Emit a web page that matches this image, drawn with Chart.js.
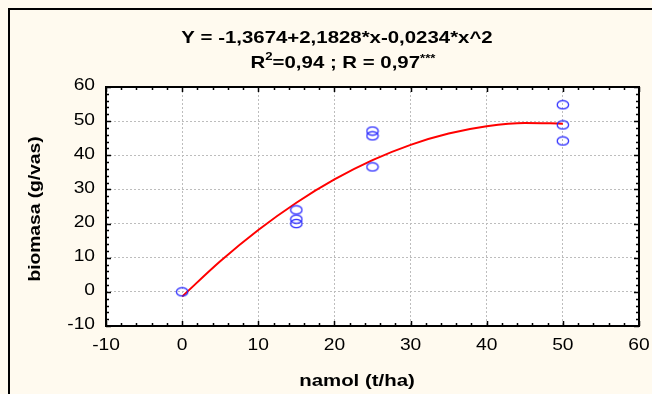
<!DOCTYPE html>
<html>
<head>
<meta charset="utf-8">
<script src="https://cdn.jsdelivr.net/npm/chart.js@4"></script>
<style>
  html, body { margin: 0; padding: 0; background: #FFFAEF; }
  #wrap { width: 652px; height: 394px; position: relative; }
</style>
</head>
<body>
<div id="wrap"><canvas id="c" width="652" height="394"></canvas></div>
<script>
// ---- data ----
const obsX = [0, 15, 15, 15, 25, 25, 25, 50, 50, 50];
const obsY = [0, 24.0, 21.3, 20.0, 47.1, 45.7, 36.6, 54.8, 48.9, 44.2];
const fitX = [0, 5, 10, 15, 20, 25, 30, 35, 40, 45, 50];
const fitY = [-1.37, 8.96, 18.12, 26.11, 32.93, 38.58, 43.06, 46.37, 48.50, 49.47, 49.27];
const xTicks = [-10, 0, 10, 20, 30, 40, 50, 60];
const yTicks = [-10, 0, 10, 20, 30, 40, 50, 60];
const titleLine1 = "Y = -1,3674+2,1828*x-0,0234*x^2";
const titleLine2a = "R";
const titleLine2b = "2";
const titleLine2c = "=0,94 ; R = 0,97";
const titleLine2d = "***";
const xTitle = "namol (t/ha)";
const yTitle = "biomasa (g/vas)";

// ellipse marker
const mk = document.createElement('canvas');
mk.width = 14; mk.height = 11;
{
  const g = mk.getContext('2d');
  g.strokeStyle = '#2323FF';
  g.lineWidth = 1.2;
  g.beginPath();
  g.ellipse(7, 5.5, 5.7, 4.2, 0, 0, Math.PI * 2);
  g.stroke();
}

const FONT = '"Liberation Sans", Arial, sans-serif';
const SX = 1.2; // horizontal stretch of the original's lettering

function stretchedText(ctx, txt, x, y, font, align, sx) {
  ctx.save();
  ctx.font = font;
  const w = ctx.measureText(txt).width * sx;
  let left = x;
  if (align === 'center') left = x - w / 2;
  else if (align === 'right') left = x - w;
  ctx.translate(left, y);
  ctx.scale(sx, 1);
  ctx.textAlign = 'left';
  ctx.fillText(txt, 0, 0);
  ctx.restore();
  return w;
}
function measure(ctx, txt, font, sx) {
  ctx.save(); ctx.font = font; const w = ctx.measureText(txt).width * sx; ctx.restore(); return w;
}

const decor = {
  id: 'decor',
  beforeDraw(chart) {
    const ctx = chart.ctx;
    const a = chart.chartArea;
    ctx.save();
    ctx.fillStyle = '#FFFAEF';
    ctx.fillRect(0, 0, chart.width, chart.height);
    ctx.strokeStyle = '#000';
    ctx.lineWidth = 2;
    ctx.beginPath();
    ctx.moveTo(9, chart.height + 5);
    ctx.lineTo(9, 9);
    ctx.lineTo(chart.width + 5, 9);
    ctx.stroke();
    ctx.fillStyle = '#FFFFFF';
    ctx.fillRect(a.left, a.top, a.right - a.left, a.bottom - a.top);
    ctx.restore();
  },
  afterDraw(chart) {
    const ctx = chart.ctx;
    const a = chart.chartArea;
    const xs = chart.scales.x, ys = chart.scales.y;
    ctx.save();
    ctx.strokeStyle = '#000';
    ctx.lineWidth = 2;
    ctx.strokeRect(a.left, a.top, a.right - a.left, a.bottom - a.top);
    ctx.lineWidth = 1.5;
    ctx.beginPath();
    for (let v = -10; v <= 60; v += 2) {
      const major = (v % 10 === 0);
      const L = major ? 5 : 3;
      const px = Math.round(xs.getPixelForValue(v)) + 0.5;
      ctx.moveTo(px, a.bottom); ctx.lineTo(px, a.bottom - L);
      ctx.moveTo(px, a.top); ctx.lineTo(px, a.top + L);
      const py = Math.round(ys.getPixelForValue(v)) + 0.5;
      ctx.moveTo(a.left, py); ctx.lineTo(a.left + L, py);
      ctx.moveTo(a.right, py); ctx.lineTo(a.right - L, py);
    }
    ctx.stroke();

    ctx.fillStyle = '#000';
    ctx.textBaseline = 'middle';
    // tick labels
    const tf = '16px ' + FONT;
    xTicks.forEach(v => stretchedText(ctx, String(v), xs.getPixelForValue(v), a.bottom + 20, tf, 'center', SX));
    yTicks.forEach(v => stretchedText(ctx, String(v), a.left - 11, ys.getPixelForValue(v) - 1, tf, 'right', SX));

    // title
    const f1 = 'bold 17px ' + FONT, f2 = 'bold 11px ' + FONT;
    stretchedText(ctx, titleLine1, 337, 38, f1, 'center', SX);
    const wA = measure(ctx, titleLine2a, f1, SX);
    const wB = measure(ctx, titleLine2b, f2, SX);
    const wC = measure(ctx, titleLine2c, f1, SX);
    const wD = measure(ctx, titleLine2d, f2, SX);
    let x = 343 - (wA + wB + wC + wD) / 2;
    x += stretchedText(ctx, titleLine2a, x, 63, f1, 'left', SX);
    x += stretchedText(ctx, titleLine2b, x, 57, f2, 'left', SX);
    x += stretchedText(ctx, titleLine2c, x, 63, f1, 'left', SX);
    stretchedText(ctx, titleLine2d, x, 59, f2, 'left', SX);

    // axis titles
    stretchedText(ctx, xTitle, 357, 381, 'bold 17px ' + FONT, 'center', SX);
    ctx.save();
    ctx.translate(36, 209);
    ctx.rotate(-Math.PI / 2);
    stretchedText(ctx, yTitle, 0, 0, 'bold 16px ' + FONT, 'center', SX);
    ctx.restore();
    ctx.restore();
  }
};

new Chart(document.getElementById('c'), {
  type: 'scatter',
  data: {
    datasets: [
      {
        type: 'line',
        data: fitX.map((x, i) => ({ x: x, y: fitY[i] })),
        borderColor: '#FF0000',
        borderWidth: 2,
        pointRadius: 0,
        fill: false,
        cubicInterpolationMode: 'monotone',
        order: 2
      },
      {
        data: obsX.map((x, i) => ({ x: x, y: obsY[i] })),
        pointStyle: mk,
        pointRadius: 6,
        order: 1
      }
    ]
  },
  options: {
    responsive: false,
    animation: false,
    devicePixelRatio: 1,
    layout: { padding: { left: 0, top: 87, right: 13, bottom: 0 } },
    plugins: { legend: { display: false }, tooltip: { enabled: false }, title: { display: false } },
    scales: {
      x: {
        type: 'linear', min: -10, max: 60,
        afterBuildTicks: s => { s.ticks = xTicks.map(v => ({ value: v })); },
        afterFit: s => { s.height = 68; },
        ticks: { display: false },
        grid: { color: '#BDBDBD', lineWidth: 1, drawTicks: false },
        border: { display: false, dash: [2, 2] }
      },
      y: {
        type: 'linear', min: -10, max: 60,
        afterBuildTicks: s => { s.ticks = yTicks.map(v => ({ value: v })); },
        afterFit: s => { s.width = 106; },
        ticks: { display: false },
        grid: { color: '#BDBDBD', lineWidth: 1, drawTicks: false },
        border: { display: false, dash: [2, 2] }
      }
    }
  },
  plugins: [decor]
});
</script>
</body>
</html>
